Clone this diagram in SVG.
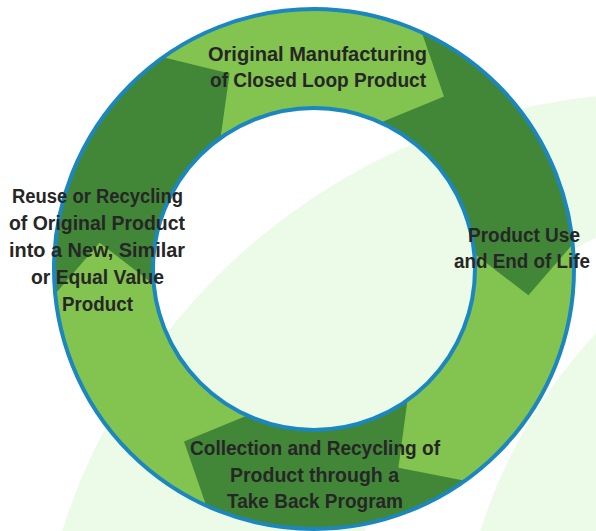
<svg xmlns="http://www.w3.org/2000/svg" width="596" height="531" viewBox="0 0 596 531">
<style>
.pale{fill:#ebfbe7}
.light{fill:#83c34f}
.dark{fill:#428638}
.edge{fill:none;stroke:#1b87be;stroke-width:4}
.lbl{font-family:"Liberation Sans",Arial,sans-serif;font-weight:700;font-size:20px;fill:#262626;text-anchor:middle}
</style>
<g id="background">
<rect x="0" y="0" width="596" height="531" fill="#ffffff"/>
<circle class="pale" cx="660" cy="720" r="627"/>
<circle cx="788" cy="627" r="434" fill="#ffffff"/>
<circle class="pale" cx="969" cy="684" r="512"/>
</g>
<g id="cycle-arrows">
<path class="light" fill-rule="evenodd" d="M314,9 A260,260 0 1 1 314,529 A260,260 0 1 1 314,9 Z M314,108 A161,161 0 1 0 314,430 A161,161 0 1 0 314,108 Z"/>
<path class="dark" d="M421.82,32.41 A260,260 0 0 1 572.80,244.08 L528.39,295.32 L474.26,253.57 A161,161 0 0 0 380.77,122.50 L444.0,96.5 Z"/>
<path class="dark" d="M464.98,480.67 A260,260 0 0 1 206.18,505.59 L184.0,441.5 L247.23,415.50 A161,161 0 0 0 407.49,400.07 L398.40,467.83 Z"/>
<path class="dark" d="M55.20,293.92 A260,260 0 0 1 163.02,57.33 L229.60,73.5 L220.51,137.93 A161,161 0 0 0 153.74,284.43 L99.61,242.68 Z"/>
<circle class="edge" cx="314" cy="269" r="260"/>
<circle class="edge" cx="314" cy="269" r="161"/>
</g>
<g id="node-manufacturing">
<text class="lbl" x="317.5" y="61" textLength="219" lengthAdjust="spacingAndGlyphs">Original Manufacturing</text>
<text class="lbl" x="318" y="87" textLength="216" lengthAdjust="spacingAndGlyphs">of Closed Loop Product</text>
</g>
<g id="node-use">
<text class="lbl" x="524" y="242" textLength="112" lengthAdjust="spacingAndGlyphs">Product Use</text>
<text class="lbl" x="522" y="268" textLength="136" lengthAdjust="spacingAndGlyphs">and End of Life</text>
</g>
<g id="node-collection">
<text class="lbl" x="315" y="455" textLength="250" lengthAdjust="spacingAndGlyphs">Collection and Recycling of</text>
<text class="lbl" x="314.5" y="482" textLength="169" lengthAdjust="spacingAndGlyphs">Product through a</text>
<text class="lbl" x="315" y="508" textLength="176" lengthAdjust="spacingAndGlyphs">Take Back Program</text>
</g>
<g id="node-reuse">
<text class="lbl" x="97.5" y="203" textLength="171" lengthAdjust="spacingAndGlyphs">Reuse or Recycling</text>
<text class="lbl" x="97" y="230" textLength="176" lengthAdjust="spacingAndGlyphs">of Original Product</text>
<text class="lbl" x="97" y="257" textLength="176" lengthAdjust="spacingAndGlyphs">into a New, Similar</text>
<text class="lbl" x="97.5" y="284" textLength="133" lengthAdjust="spacingAndGlyphs">or Equal Value</text>
<text class="lbl" x="97.5" y="311" textLength="71" lengthAdjust="spacingAndGlyphs">Product</text>
</g>
</svg>
